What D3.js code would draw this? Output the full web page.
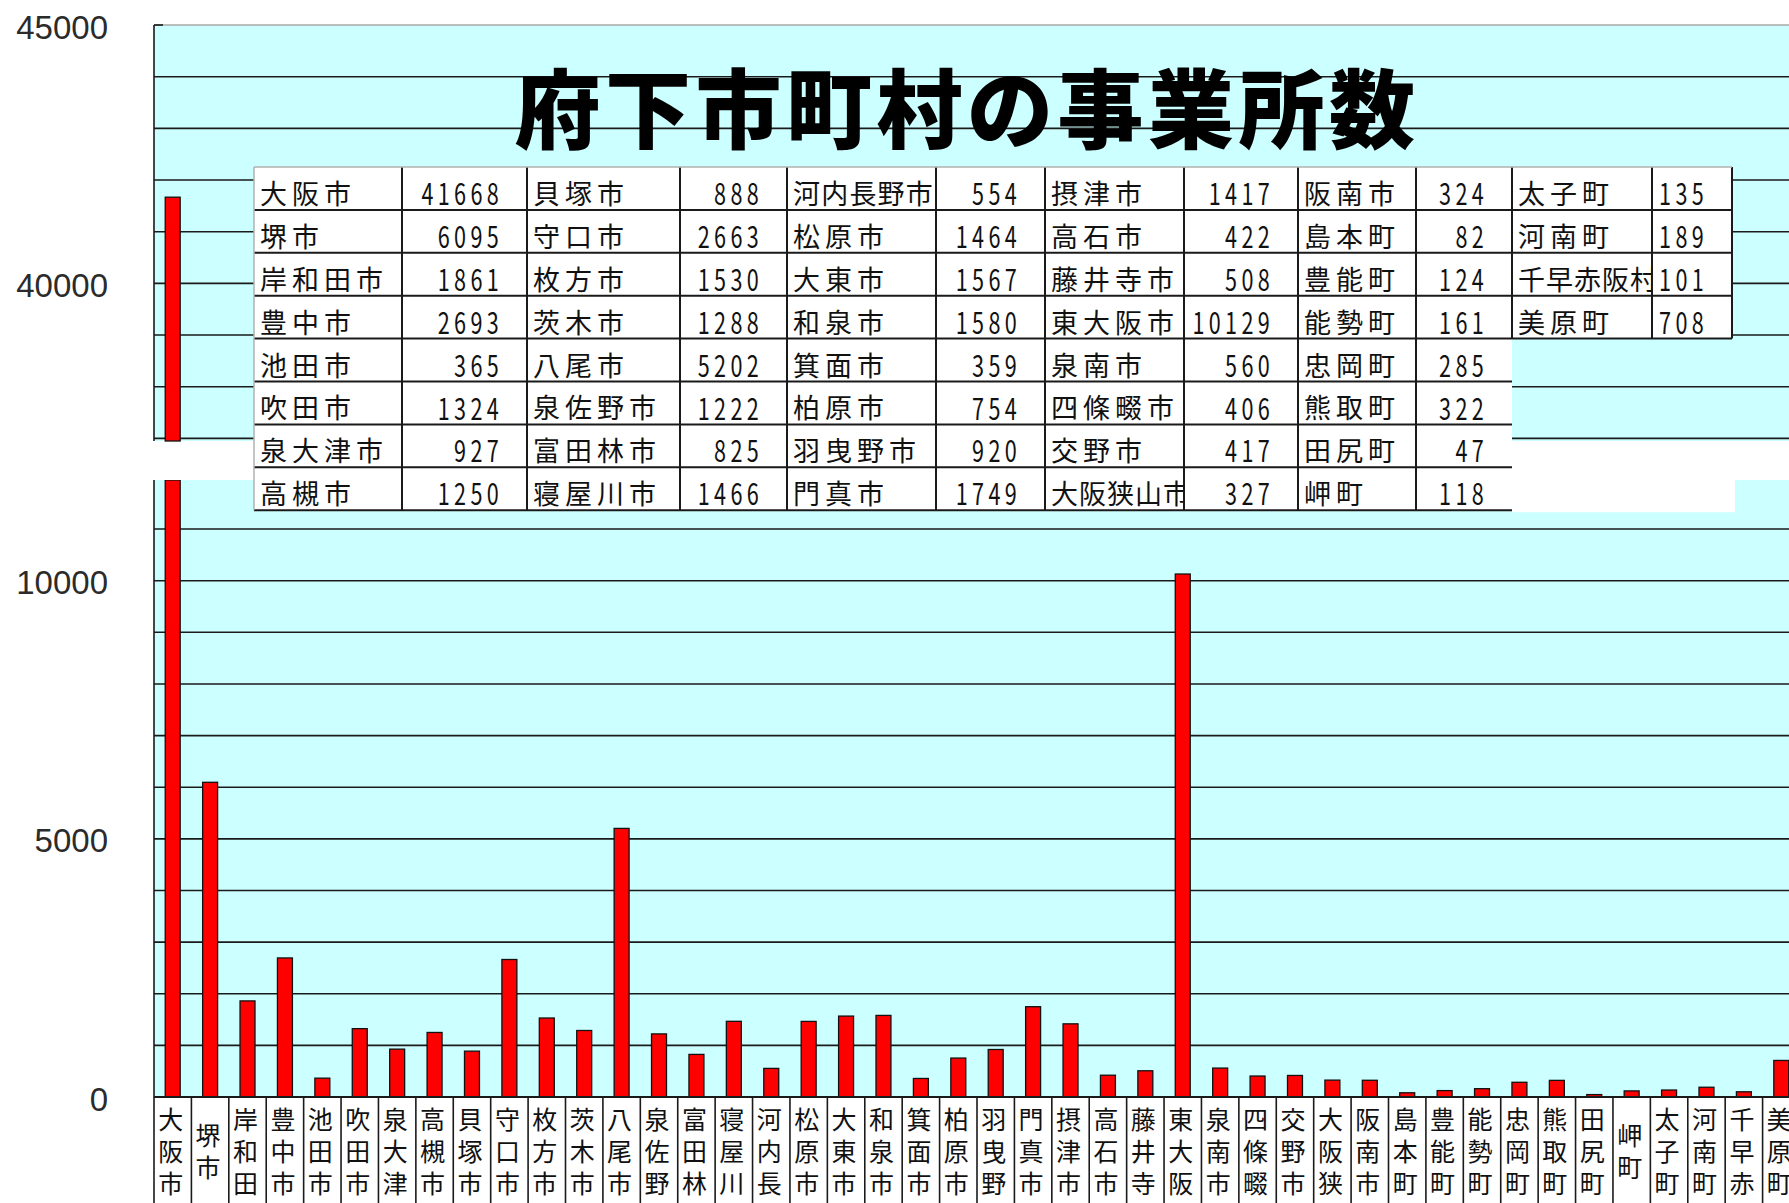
<!DOCTYPE html>
<html lang="ja">
<head>
<meta charset="utf-8">
<title>府下市町村の事業所数</title>
<script src="https://cdn.jsdelivr.net/npm/d3@7"></script>
<style>
  html, body { margin: 0; padding: 0; background: #fff; }
  svg { display: block; }
</style>
</head>
<body>
<svg id="chart" width="1789" height="1203"></svg>
<script>
// 府下市町村の事業所数 — data
const names = ["大阪市","堺市","岸和田市","豊中市","池田市","吹田市","泉大津市","高槻市",
  "貝塚市","守口市","枚方市","茨木市","八尾市","泉佐野市","富田林市","寝屋川市",
  "河内長野市","松原市","大東市","和泉市","箕面市","柏原市","羽曳野市","門真市",
  "摂津市","高石市","藤井寺市","東大阪市","泉南市","四條畷市","交野市","大阪狭山市",
  "阪南市","島本町","豊能町","能勢町","忠岡町","熊取町","田尻町","岬町",
  "太子町","河南町","千早赤阪村","美原町"];
const shortLabels = ["大阪市","堺市","岸和田","豊中市","池田市","吹田市","泉大津","高槻市",
  "貝塚市","守口市","枚方市","茨木市","八尾市","泉佐野","富田林","寝屋川",
  "河内長","松原市","大東市","和泉市","箕面市","柏原市","羽曳野","門真市",
  "摂津市","高石市","藤井寺","東大阪","泉南市","四條畷","交野市","大阪狭",
  "阪南市","島本町","豊能町","能勢町","忠岡町","熊取町","田尻町","岬町",
  "太子町","河南町","千早赤","美原町"];
const counts = [41668,6095,1861,2693,365,1324,927,1250,
  888,2663,1530,1288,5202,1222,825,1466,
  554,1464,1567,1580,359,754,920,1749,
  1417,422,508,10129,560,406,417,327,
  324,82,124,161,285,322,47,118,
  135,189,101,708];
const upperTickLabels = [45000, 40000];
const lowerTickLabels = [10000, 5000, 0];
const title = "府下市町村の事業所数";

// ---- layout ----
const W = 1789, H = 1203;
const axisX = 154;
const upperTop = 25, upperBottom = 441;   // upper (broken) panel
const lowerTop = 480, lowerBottom = 1097; // lower panel
const CYAN = "#ccffff";
const GRID = "#1a1a1a";
const JP = "'Noto Sans CJK JP', sans-serif";

const svg = d3.select("#chart");
svg.append("rect").attr("width", W).attr("height", H).attr("fill", "#fff");

const x = d3.scaleBand().domain(names).range([axisX, 1800]).paddingInner(0.6).paddingOuter(0.3);
const yUpper = d3.scaleLinear().domain([36950, 45000]).range([upperBottom, upperTop]);
const yLower = d3.scaleLinear().domain([0, 11950]).range([lowerBottom, lowerTop]);

// plot backgrounds
svg.append("rect").attr("x", axisX).attr("y", upperTop).attr("width", W - axisX)
  .attr("height", upperBottom - upperTop).attr("fill", CYAN);
svg.append("rect").attr("x", axisX).attr("y", lowerTop).attr("width", W - axisX)
  .attr("height", lowerBottom - lowerTop).attr("fill", CYAN);

// gridlines
const grid = svg.append("g").attr("stroke", GRID).attr("stroke-width", 1.6);
yUpper.ticks(9).filter(v => v < 45000).forEach(v => {
  grid.append("line").attr("x1", axisX).attr("x2", W)
    .attr("y1", yUpper(v)).attr("y2", yUpper(v));
});
yLower.ticks(12).filter(v => v > 0).forEach(v => {
  grid.append("line").attr("x1", axisX).attr("x2", W)
    .attr("y1", yLower(v)).attr("y2", yLower(v));
});
// plot area top border
svg.append("line").attr("x1", axisX).attr("x2", W).attr("y1", upperTop).attr("y2", upperTop)
  .attr("stroke", "#a8a8a8").attr("stroke-width", 1.5);
svg.append("line").attr("x1", axisX).attr("x2", axisX + 9).attr("y1", upperTop).attr("y2", upperTop)
  .attr("stroke", GRID).attr("stroke-width", 1.6);

// bars (upper and lower segments of the broken axis)
const bars = svg.append("g").attr("fill", "#ff0000").attr("stroke", "#111").attr("stroke-width", 1.3);
names.forEach((n, i) => {
  const v = counts[i];
  const top = yLower(Math.min(v, yLower.domain()[1]));
  bars.append("rect").attr("x", x(n)).attr("width", x.bandwidth())
    .attr("y", top).attr("height", lowerBottom - top);
  if (v > yUpper.domain()[0]) {
    const t2 = yUpper(Math.min(v, 45000));
    bars.append("rect").attr("x", x(n)).attr("width", x.bandwidth())
      .attr("y", t2).attr("height", upperBottom - t2);
  }
});

// y axis lines
svg.append("line").attr("x1", axisX).attr("x2", axisX).attr("y1", upperTop).attr("y2", upperBottom)
  .attr("stroke", GRID).attr("stroke-width", 1.6);
svg.append("line").attr("x1", axisX).attr("x2", axisX).attr("y1", lowerTop).attr("y2", lowerBottom)
  .attr("stroke", GRID).attr("stroke-width", 1.6);

// break band between panels
svg.append("rect").attr("x", 0).attr("y", upperBottom + 1).attr("width", W)
  .attr("height", lowerTop - upperBottom - 1).attr("fill", "#fff");

// y tick labels
const tickStyle = s => s.attr("font-family", "'Liberation Sans', Arial, sans-serif")
  .attr("font-size", 33).attr("fill", "#2b2b2b").attr("text-anchor", "end")
  .attr("dominant-baseline", "central");
upperTickLabels.forEach(v => {
  svg.append("text").attr("x", 108).attr("y", yUpper(v) + 2).text(v).call(tickStyle);
});
lowerTickLabels.forEach(v => {
  svg.append("text").attr("x", 108).attr("y", yLower(v) + 2).text(v).call(tickStyle);
});

// category label boxes with vertical text
const step = x.step();
const labels = svg.append("g");
labels.append("rect").attr("x", axisX).attr("y", lowerBottom).attr("width", W - axisX)
  .attr("height", H - lowerBottom).attr("fill", "#fff");
names.forEach((n, i) => {
  const cx = x(n) + x.bandwidth() / 2;
  const left = cx - step / 2;
  labels.append("line").attr("x1", left).attr("x2", left).attr("y1", lowerBottom).attr("y2", H)
    .attr("stroke", GRID).attr("stroke-width", 1.6);
  const len = Array.from(shortLabels[i]).length;
  const y0 = len === 3 ? 1107 : 1123;
  labels.append("text")
    .attr("x", cx - 2).attr("y", y0)
    .attr("writing-mode", "vertical-rl")
    .attr("text-orientation", "upright")
    .attr("font-family", JP).attr("font-size", 25)
    .attr("letter-spacing", 7)
    .attr("fill", "#111").text(shortLabels[i]);
});
// x axis line
svg.append("line").attr("x1", axisX).attr("x2", W).attr("y1", lowerBottom).attr("y2", lowerBottom)
  .attr("stroke", GRID).attr("stroke-width", 1.8);

// title
svg.append("text").attr("x", 967).attr("y", 104)
  .attr("text-anchor", "middle").attr("dominant-baseline", "central")
  .attr("font-family", JP).attr("font-weight", 900)
  .attr("font-size", 86).attr("letter-spacing", 4.5).attr("fill", "#000").text(title);

// data table overlay
const colEdges = [254, 402, 527, 680, 787, 936, 1045, 1184, 1298, 1416, 1512, 1652, 1732];
const tableTop = 167, rowH = 42.9, rowsPerPair = 8;
const table = svg.append("g");
const defs = svg.append("defs");

// backing of the table block below the short last column
table.append("rect").attr("x", colEdges[10]).attr("y", lowerTop - 2)
  .attr("width", 1735 - colEdges[10]).attr("height", tableTop + rowsPerPair * rowH - lowerTop + 4)
  .attr("fill", "#fff");

names.forEach((n, i) => {
  const pair = Math.floor(i / rowsPerPair), row = i % rowsPerPair;
  const xl = colEdges[pair * 2], xm = colEdges[pair * 2 + 1], xr = colEdges[pair * 2 + 2];
  const yt = tableTop + row * rowH;
  const yc = yt + rowH / 2 + 4;
  table.append("rect").attr("x", xl).attr("y", yt).attr("width", xr - xl).attr("height", rowH)
    .attr("fill", "#fff");
  const cid = "cell" + i;
  defs.append("clipPath").attr("id", cid).append("rect")
    .attr("x", xl + 1).attr("y", yt).attr("width", xm - xl - 2).attr("height", rowH);
  const chars = Array.from(n).length;
  const cellW = xm - xl;
  const pitch = Math.min(32, Math.max(28, (cellW - 8) / chars));
  const fs = 27;
  table.append("text").attr("clip-path", `url(#${cid})`)
    .attr("x", xl + 6).attr("y", yc)
    .attr("dominant-baseline", "central")
    .attr("font-family", JP).attr("font-size", fs)
    .attr("letter-spacing", pitch - fs).attr("fill", "#111").text(n);
  // narrow, tall digits
  table.append("text")
    .attr("transform", `translate(${xr - 24},${yc}) scale(0.72,1)`)
    .attr("text-anchor", "end").attr("dominant-baseline", "central")
    .attr("font-family", JP).attr("font-size", 30)
    .attr("letter-spacing", 6).attr("fill", "#111").text(counts[i]);
});

// table rules
const rules = table.append("g").attr("stroke", GRID).attr("stroke-width", 2);
const pairs = Math.ceil(names.length / rowsPerPair);
for (let p = 0; p < pairs; p++) {
  const rows = Math.min(rowsPerPair, names.length - p * rowsPerPair);
  const xl = colEdges[p * 2], xm = colEdges[p * 2 + 1], xr = colEdges[p * 2 + 2];
  for (let r = 1; r <= rows; r++) {
    const yy = tableTop + r * rowH;
    rules.append("line").attr("x1", xl).attr("x2", xr).attr("y1", yy).attr("y2", yy);
  }
  const yb = tableTop + rows * rowH;
  if (p > 0) rules.append("line").attr("x1", xl).attr("x2", xl).attr("y1", tableTop).attr("y2", yb);
  rules.append("line").attr("x1", xm).attr("x2", xm).attr("y1", tableTop).attr("y2", yb);
  if (p === pairs - 1 || rows < rowsPerPair)
    rules.append("line").attr("x1", xr).attr("x2", xr).attr("y1", tableTop).attr("y2", yb);
}
// light frame on top and left edges
table.append("line").attr("x1", colEdges[0]).attr("x2", colEdges[12]).attr("y1", tableTop).attr("y2", tableTop)
  .attr("stroke", "#b0b0b0").attr("stroke-width", 1.5);
table.append("line").attr("x1", colEdges[0]).attr("x2", colEdges[0])
  .attr("y1", tableTop).attr("y2", tableTop + rowsPerPair * rowH)
  .attr("stroke", "#b0b0b0").attr("stroke-width", 1.5);
</script>
</body>
</html>
